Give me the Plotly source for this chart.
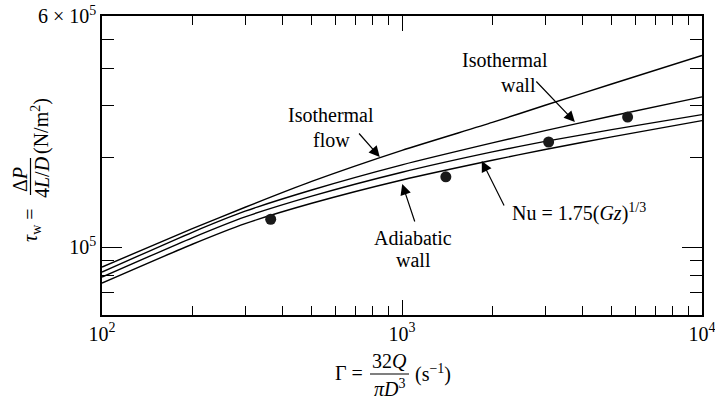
import plotly.graph_objects as go

# ---- data ----
gamma = [100, 200, 300, 500, 1000, 2000, 3000, 5000, 10000]
tau_isothermal_flow = [85600, 115300, 136100, 166300, 211600, 262800, 300200, 354100, 441900]
tau_isothermal_wall = [82330, 112080, 132000, 155630, 189100, 224200, 246600, 276300, 320400]
tau_nu_175 = [79180, 107400, 126300, 148350, 178600, 209100, 226800, 248500, 279200]
tau_adiabatic_wall = [75570, 102160, 119880, 140370, 168200, 196000, 213000, 234900, 266500]

gamma_exp = [365, 1400, 3081, 5650]
tau_exp = [124000, 172400, 225800, 274000]

x_major = [100, 1000, 10000]
x_major_text = ["10<sup>2</sup>", "10<sup>3</sup>", "10<sup>4</sup>"]
x_minor = [200, 300, 400, 500, 600, 700, 800, 900,
           2000, 3000, 4000, 5000, 6000, 7000, 8000, 9000]
y_major = [100000, 600000]
y_major_text = ["10<sup>5</sup>", "6 × 10<sup>5</sup>"]
y_minor = [70000, 80000, 90000, 200000, 300000, 400000, 500000]

FONT = "'Liberation Serif', 'Times New Roman', serif"
FS = 20

fig = go.Figure()
for ys in [tau_isothermal_flow, tau_isothermal_wall, tau_nu_175, tau_adiabatic_wall]:
    fig.add_trace(go.Scatter(x=gamma, y=ys, mode="lines",
                             line=dict(color="black", width=1.4, shape="spline", smoothing=0.6),
                             showlegend=False, hoverinfo="skip", cliponaxis=True))
fig.add_trace(go.Scatter(x=gamma_exp, y=tau_exp, mode="markers",
                         marker=dict(color="#1a1a1a", size=11), showlegend=False))

axis_common = dict(showline=True, linecolor="black", linewidth=1.5, mirror="ticks",
                   ticks="inside", tickcolor="black", tickwidth=1.2, showgrid=False,
                   zeroline=False, automargin=False, ticklabeloverflow="allow",
                   tickfont=dict(family=FONT, size=FS, color="black"))

fig.update_xaxes(type="log", range=[2, 4], tickmode="array", tickvals=x_major,
                 ticktext=x_major_text, ticklen=15,
                 minor=dict(tickmode="array", tickvals=x_minor, ticks="inside", ticklen=9,
                            tickcolor="black", tickwidth=1.2, showgrid=False),
                 **axis_common)
fig.update_yaxes(type="log", range=[4.7709, 5.7782], tickmode="array", tickvals=y_major,
                 ticktext=y_major_text, ticklen=20,
                 minor=dict(tickmode="array", tickvals=y_minor, ticks="inside", ticklen=12,
                            tickcolor="black", tickwidth=1.2, showgrid=False),
                 **axis_common)

L, R, T, B = 102, 13, 16, 84
W, H = 715, 399
PW, PH = W - L - R, H - T - B


def px(xp):
    return (xp - L) / PW


def py(yp):
    return (H - B - yp) / PH


ann = []
tf = dict(family=FONT, size=FS, color="black")

# in-plot labels (x in log10 units, y in log10 units)
labels = [
    ("Isothermal", 2.7623, 5.4447, "center"),
    ("flow", 2.7656, 5.3605, "center"),
    ("Isothermal", 3.3428, 5.6301, "center"),
    ("wall", 3.3895, 5.5458, "center"),
    ("Adiabatic", 3.0359, 5.0303, "center"),
    ("wall", 3.0392, 4.9562, "center"),
    ("Nu = 1.75(<i>Gz</i>)<sup>1/3</sup>", 3.3595, 5.1179, "left"),
]
for t, xv, yv, xa in labels:
    ann.append(dict(text=t, x=xv, y=yv, xref="x", yref="y", showarrow=False,
                    xanchor=xa, yanchor="middle", font=tf))

arrows = [
    (2.9258, 5.3032, -22, -25),
    (3.5763, 5.4212, -40, -42),
    (3.0008, 5.2123, 13, 39),
    (3.2661, 5.2898, 23, 46),
]
for xv, yv, axp, ayp in arrows:
    ann.append(dict(text="", x=xv, y=yv, xref="x", yref="y", showarrow=True,
                    ax=axp, ay=ayp, arrowhead=2, arrowsize=1.8, arrowwidth=1.2,
                    arrowcolor="black"))

# x-axis title built from pieces (fraction)
ann += [
    dict(text="Γ =", x=px(349), y=py(373), xref="paper", yref="paper", showarrow=False,
         xanchor="center", yanchor="middle", font=tf),
    dict(text="32<i>Q</i>", x=px(389), y=py(361), xref="paper", yref="paper", showarrow=False,
         xanchor="center", yanchor="middle", font=tf),
    dict(text="<i>πD</i><sup>3</sup>", x=px(389), y=py(388), xref="paper", yref="paper",
         showarrow=False, xanchor="center", yanchor="middle", font=tf),
    dict(text="(s<sup>−1</sup>)", x=px(433), y=py(373), xref="paper", yref="paper",
         showarrow=False, xanchor="center", yanchor="middle", font=tf),
]
# y-axis title built from pieces (rotated)
ann += [
    dict(text="<i>τ</i><sub>w</sub> =", x=px(31), y=py(225), xref="paper", yref="paper",
         showarrow=False, xanchor="center", yanchor="middle", textangle=-90, font=tf),
    dict(text="Δ<i>P</i>", x=px(20), y=py(180), xref="paper", yref="paper",
         showarrow=False, xanchor="center", yanchor="middle", textangle=-90, font=tf),
    dict(text="4<i>L</i>/<i>D</i>", x=px(42), y=py(177), xref="paper", yref="paper",
         showarrow=False, xanchor="center", yanchor="middle", textangle=-90, font=tf),
    dict(text="(N/m<sup>2</sup>)", x=px(40), y=py(126), xref="paper", yref="paper",
         showarrow=False, xanchor="center", yanchor="middle", textangle=-90, font=tf),
]

shapes = [
    dict(type="line", xref="paper", yref="paper", x0=px(370), x1=px(409),
         y0=py(374), y1=py(374), line=dict(color="black", width=1.2)),
    dict(type="line", xref="paper", yref="paper", x0=px(30.5), x1=px(30.5),
         y0=py(195), y1=py(158), line=dict(color="black", width=1.2)),
]

fig.update_layout(width=W, height=H, margin=dict(l=L, r=R, t=T, b=B),
                  paper_bgcolor="white", plot_bgcolor="white",
                  font=dict(family=FONT, size=FS, color="black"),
                  annotations=ann, shapes=shapes, showlegend=False)

fig.write_html("out.html")
